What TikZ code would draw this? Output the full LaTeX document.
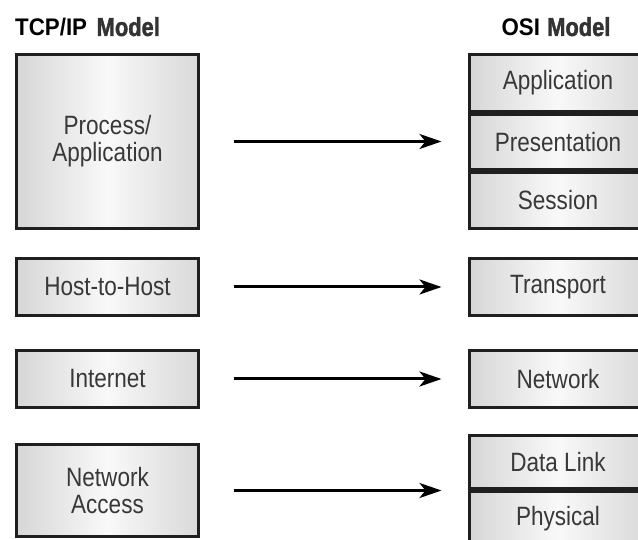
\documentclass[tikz,border=0pt]{standalone}
\usepackage{fontspec}
\setmainfont{Liberation Sans}[FakeStretch=0.85]
\newfontfamily\headfont{Liberation Sans}[FakeStretch=0.93]
\newfontfamily\heavyfont{Liberation Sans}[FakeStretch=0.84,FakeBold=1.6]
\usetikzlibrary{arrows.meta}
\newcommand\lblsize{\fontsize{26.5}{27}\selectfont}
\begin{document}
\begin{tikzpicture}[x=1pt,y=-1pt,
  layer/.style={draw=black!88, line width=3pt, inner sep=0pt, outer sep=0pt,
    left color=gray!32, right color=gray!30, middle color=gray!5,
    text=black!78, font=\lblsize, align=center},
  lbox/.style={layer, minimum width=182pt},
  rbox/.style={layer, minimum width=177pt},
  conn/.style={line width=3pt, -{Stealth[length=22pt,width=15pt,inset=6pt]},
    shorten <=35pt, shorten >=28pt},
  head/.style={font=\headfont\bfseries\fontsize{24}{26}\selectfont, inner sep=0pt, text=black}
]
\fill[white] (0,0) rectangle (638,540);
\useasboundingbox (0,0) rectangle (638,540);
\clip (0,0) rectangle (638,540);

% headers
\node[head, anchor=base west] (tcphead) at (15,36) {TCP/IP\hspace{0.4em}{\heavyfont\fontsize{26}{26}\selectfont\color{black!80}Model}};
\node[head, anchor=base] (osihead) at (556,36) {OSI\hspace{0.3em}{\heavyfont\fontsize{26}{26}\selectfont\color{black!80}Model}};

% TCP/IP model
\node[lbox, minimum height=174pt] (proc) at (107.5,141.5) {Process/\\Application};
\node[lbox, minimum height=57pt] (host) at (107.5,287) {Host-to-Host};
\node[lbox, minimum height=57pt] (inet) at (107.5,379) {Internet};
\node[lbox, minimum height=92pt] (netacc) at (107.5,490.5) {Network\\Access};

% OSI model
\node[rbox, minimum height=57pt] (app) at (558,83) {Application};
\node[rbox, minimum height=55pt] (pres) at (558,142) {Presentation};
\node[rbox, minimum height=56pt] (sess) at (558,200.5) {Session};
\node[rbox, minimum height=57pt] (trans) at (558,287) {Transport};
\node[rbox, minimum height=57pt] (net) at (558,379) {Network};
\node[rbox, minimum height=53pt] (dlink) at (558,462) {Data Link};
\node[rbox, minimum height=55pt] (phys) at (558,519) {Physical};

% connectors
\draw[conn] (proc.east) -- (proc.east -| pres.west);
\draw[conn] (host.east) -- (trans.west);
\draw[conn] (inet.east) -- (net.west);
\draw[conn] (netacc.east) -- (netacc.east -| dlink.south west);
\end{tikzpicture}
\end{document}
